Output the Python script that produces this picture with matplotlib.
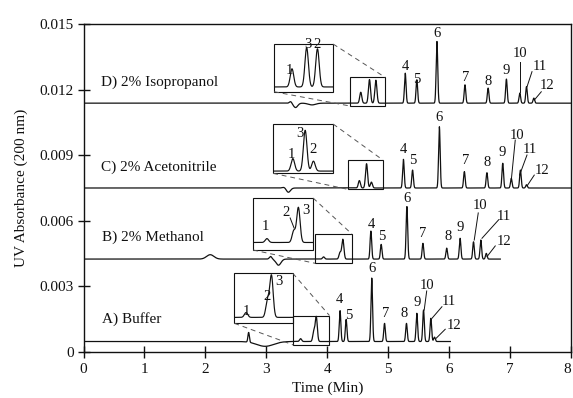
import numpy as np
import matplotlib
matplotlib.use("Agg")
import matplotlib.pyplot as plt
from matplotlib.patches import Rectangle

plt.rcParams['font.family'] = ['Liberation Serif', 'DejaVu Serif']

# ---------------- data ----------------
x_ticks = [0, 1, 2, 3, 4, 5, 6, 7, 8]
y_ticks = [0, 0.003, 0.006, 0.009, 0.012, 0.015]
y_tick_labels = ["0", "0.003", "0.006", "0.009", "0.012", "0.015"]

peak_ids = ["1", "2", "3", "4", "5", "6", "7", "8", "9", "10", "11", "12"]

# A) Buffer
base_A = 0.00048
end_A = 6.02
rt_A = [3.563, 3.78, 3.82, 4.21, 4.31, 4.73, 4.94, 5.30, 5.47, 5.58, 5.70, 5.76]
ht_A = [0.00013, 0.00046, 0.00112, 0.00141, 0.00101, 0.0029, 0.00083, 0.00083,
        0.00129, 0.00144, 0.00106, 0.0002]
dist_t_A = [2.71, 2.98]
dist_h_A = [0.00045, -0.00022]
dist_w_A = [0.012, 0.14]

# B) 2% Methanol
base_B = 0.00425
end_B = 6.84
rt_B = [3.94, 4.21, 4.256, 4.716, 4.885, 5.307, 5.57, 5.96, 6.18, 6.40, 6.52, 6.61]
ht_B = [0.0001, 0.0003, 0.0009, 0.00128, 0.00067, 0.0024, 0.00072, 0.0005,
        0.00095, 0.00079, 0.00087, 0.00026]
dist_t_B = [2.08, 3.07, 3.20]
dist_h_B = [0.0002, 0.00012, -0.00028]
dist_w_B = [0.06, 0.02, 0.04]

# C) 2% Acetonitrile
base_C = 0.0075
end_C = 8.0
rt_C = [4.527, 4.724, 4.645, 5.25, 5.40, 5.84, 6.25, 6.62, 6.88, 7.02, 7.17, 7.27]
ht_C = [0.00034, 0.00027, 0.00111, 0.00131, 0.00082, 0.0028, 0.00075, 0.0007,
        0.00113, 0.00044, 0.00082, 0.00015]
dist_t_C = [3.30, 3.36]
dist_h_C = [0.00005, -0.0002]
dist_w_C = [0.03, 0.035]

# D) 2% Isopropanol
base_D = 0.01138
end_D = 8.0
rt_D = [4.55, 4.798, 4.693, 5.28, 5.47, 5.80, 6.26, 6.64, 6.94, 7.16, 7.27, 7.39]
ht_D = [0.0005, 0.00105, 0.00108, 0.00137, 0.00107, 0.00282, 0.00084, 0.00069,
        0.0011, 0.00046, 0.00076, 0.00023]
dist_t_D = [3.40, 3.48, 3.75]
dist_h_D = [0.00008, -0.0002, -0.00008]
dist_w_D = [0.02, 0.035, 0.06]

run_labels = ["A) Buffer", "B) 2% Methanol", "C) 2% Acetonitrile", "D) 2% Isopropanol"]

# ---------------- layout ----------------
# peak widths (min): the early cluster 1-3 is broader than peaks 4-12
sigma_early = 0.017
sigma_late = 0.013

run_label_pos = [(0.30, 0.00134), (0.30, 0.00509), (0.287, 0.00829), (0.287, 0.01216)]

# zoom windows: (t0, t1, v0, v1) of the small box and of the magnified box
zoom_src = {
    "A": (3.445, 4.036, 0.00032, 0.001669),
    "B": (3.801, 4.404, 0.004056, 0.005395),
    "C": (4.338, 4.913, 0.007439, 0.008779),
    "D": (4.376, 4.951, 0.011248, 0.012560),
}
zoom_dst = {
    "A": (2.476, 3.435, 0.001312, 0.003599),
    "B": (2.783, 3.768, 0.004664, 0.007042),
    "C": (3.112, 4.097, 0.008171, 0.010425),
    "D": (3.128, 4.097, 0.011902, 0.014083),
}

# peak-number label positions (peaks 1-3 sit in the magnified box)
lab_t = {
    "A": [2.680, 3.008, 3.215, 4.207, 4.355, 4.732, 4.951, 5.263, 5.471, 5.635, 5.990, 6.084],
    "B": [2.980, 3.325, 3.654, 4.716, 4.897, 5.307, 5.570, 5.985, 6.182, 6.511, 6.893, 6.893],
    "C": [3.419, 3.764, 3.555, 5.251, 5.399, 5.842, 6.264, 6.621, 6.867, 7.113, 7.332, 7.524],
    "D": [3.379, 3.829, 3.691, 5.279, 5.471, 5.800, 6.276, 6.647, 6.938, 7.167, 7.496, 7.606],
}
lab_v = {
    "A": [0.00187, 0.00253, 0.00321, 0.00238, 0.00169, 0.00383, 0.00174, 0.00177,
          0.00225, 0.00306, 0.00230, 0.00123],
    "B": [0.00573, 0.00636, 0.00645, 0.00581, 0.00527, 0.00703, 0.00543, 0.00527,
          0.00570, 0.00672, 0.00619, 0.00504],
    "C": [0.00901, 0.00924, 0.01000, 0.00924, 0.00875, 0.01073, 0.00875, 0.00866,
          0.00911, 0.00992, 0.00924, 0.00832],
    "D": [0.01289, 0.01406, 0.01406, 0.01305, 0.01247, 0.01457, 0.01256, 0.01239,
          0.01289, 0.01366, 0.01305, 0.01218],
}
# leader lines ((t_start, t_end), (v_start, v_end))
leaders = {
    "A": [((5.632, 5.591), (0.00279, 0.00192)), ((5.882, 5.718), (0.00207, 0.00154)),
          ((5.936, 5.788), (0.00104, 0.00063))],
    "B": [((6.478, 6.412), (0.00636, 0.00512)), ((6.811, 6.539), (0.00604, 0.00520)),
          ((6.757, 6.621), (0.00485, 0.00436)), ((3.391, 3.456), (0.00613, 0.00567))],
    "C": [((7.085, 7.020), (0.00969, 0.00786)), ((7.278, 7.156), (0.00901, 0.00809)),
          ((7.397, 7.278), (0.00809, 0.00759))],
    "D": [((7.156, 7.156), (0.01326, 0.01189)), ((7.360, 7.278), (0.01282, 0.01213)),
          ((7.512, 7.397), (0.01190, 0.01152))],
}

runs = {
    "A": (base_A, end_A, rt_A, ht_A, dist_t_A, dist_h_A, dist_w_A),
    "B": (base_B, end_B, rt_B, ht_B, dist_t_B, dist_h_B, dist_w_B),
    "C": (base_C, end_C, rt_C, ht_C, dist_t_C, dist_h_C, dist_w_C),
    "D": (base_D, end_D, rt_D, ht_D, dist_t_D, dist_h_D, dist_w_D),
}


def chromatogram(base, end, rts, hts, dts, dhs, dws):
    t = np.linspace(0.0, end, int(end * 700) + 1)
    y = np.full_like(t, base)
    for i, (c, h) in enumerate(zip(rts, hts)):
        s = sigma_early if i < 3 else sigma_late
        y += h * np.exp(-0.5 * ((t - c) / s) ** 2)
    for c, h, w in zip(dts, dhs, dws):
        y += h * np.exp(-0.5 * ((t - c) / w) ** 2)
    return t, y


fig = plt.figure(figsize=(5.73, 3.98), dpi=100)
ax = fig.add_axes([83.5 / 573, 1 - 352 / 398, (571 - 83.5) / 573, (352 - 24) / 398])
ax.set_xlim(0, 8)
ax.set_ylim(0, 0.015)

ink = "#111111"
fs = 10.5

for key, (base, end, rts, hts, dts, dhs, dws) in runs.items():
    t, y = chromatogram(base, end, rts, hts, dts, dhs, dws)
    ax.plot(t, y, color=ink, lw=0.9, solid_joinstyle="round")

    # small window and its magnified copy
    s0, s1, sv0, sv1 = zoom_src[key]
    d0, d1, dv0, dv1 = zoom_dst[key]
    ax.add_patch(Rectangle((s0, sv0), s1 - s0, sv1 - sv0, fill=False, ec=ink, lw=0.8))
    big = Rectangle((d0, dv0), d1 - d0, dv1 - dv0, fill=False, ec=ink, lw=0.8)
    ax.add_patch(big)
    m = (t >= s0) & (t <= s1)
    tx = d0 + (t[m] - s0) * (d1 - d0) / (s1 - s0)
    vy = dv0 + (y[m] - sv0) * (dv1 - dv0) / (sv1 - sv0)
    ln, = ax.plot(tx, vy, color=ink, lw=0.85)
    ln.set_clip_path(big)
    ax.plot([d1, s1], [dv1, sv1], color="#555555", lw=0.7, ls=(0, (5, 4)))
    ax.plot([d0, s0], [dv0, sv0], color="#555555", lw=0.7, ls=(0, (5, 4)))

    for pid, lt, lv in zip(peak_ids, lab_t[key], lab_v[key]):
        ax.text(lt, lv, pid, fontsize=fs, ha="center", va="center", color=ink)
    for (lt0, lt1), (lv0, lv1) in leaders[key]:
        ax.plot([lt0, lt1], [lv0, lv1], color=ink, lw=0.7)

for name, (lt, lv) in zip(run_labels, run_label_pos):
    ax.text(lt, lv, name, fontsize=11, ha="left", va="baseline", color=ink)

ax.set_xticks(x_ticks)
ax.set_xticklabels([str(v) for v in x_ticks])
ax.set_yticks(y_ticks)
ax.set_yticklabels(y_tick_labels)
ax.tick_params(direction="inout", length=8, width=1.0, labelsize=11, colors=ink)
ax.tick_params(axis="x", pad=4)
ax.tick_params(axis="y", pad=3)
# keep the last time label inside the canvas
ax.get_xticklabels()[-1].set_horizontalalignment("right")
for sp in ax.spines.values():
    sp.set_linewidth(1.0)
    sp.set_color(ink)

ax.set_xlabel("Time (Min)", fontsize=11, labelpad=4, color=ink)
ax.set_ylabel("UV Absorbance (200 nm)", fontsize=11, labelpad=8, color=ink)

fig.savefig("out.png", dpi=100)
